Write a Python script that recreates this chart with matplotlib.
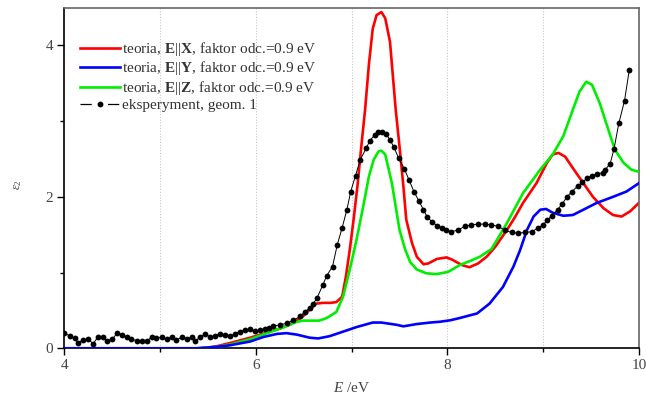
import matplotlib
matplotlib.use("Agg")
import matplotlib.pyplot as plt
from matplotlib.ticker import MultipleLocator
from matplotlib.lines import Line2D

plt.rcParams['font.family'] = ['Liberation Serif', 'DejaVu Serif']
plt.rcParams['mathtext.fontset'] = 'custom'
plt.rcParams['mathtext.rm'] = 'Liberation Serif'
plt.rcParams['mathtext.it'] = 'Liberation Serif:italic'
plt.rcParams['mathtext.bf'] = 'Liberation Serif:bold'

# ---- data ----
red_x = [4.0, 5.0, 5.4, 5.5, 5.6, 5.73, 5.85, 5.94, 6.07, 6.25, 6.35, 6.43, 6.49, 6.56, 6.63,
         6.70, 6.78, 6.84, 6.90, 6.94, 6.98, 7.02, 7.06, 7.10, 7.14, 7.18, 7.22, 7.26, 7.31,
         7.35, 7.40, 7.46, 7.50, 7.54, 7.57, 7.63, 7.68, 7.75, 7.80, 7.89, 7.99, 8.05, 8.15,
         8.23, 8.32, 8.41, 8.50, 8.62, 8.70, 8.79, 8.86, 8.93, 9.04, 9.10, 9.16, 9.23, 9.31,
         9.42, 9.52, 9.63, 9.73, 9.82, 9.91, 10.0]
red_y = [0.0, 0.0, 0.0, 0.01, 0.03, 0.07, 0.11, 0.14, 0.19, 0.26, 0.31, 0.37, 0.42, 0.51, 0.59,
         0.60, 0.60, 0.61, 0.68, 0.95, 1.30, 1.70, 2.14, 2.66, 3.15, 3.75, 4.22, 4.40, 4.44,
         4.36, 4.05, 3.15, 2.66, 2.14, 1.70, 1.39, 1.21, 1.11, 1.12, 1.18, 1.20, 1.17, 1.10,
         1.07, 1.12, 1.21, 1.34, 1.56, 1.72, 1.92, 2.05, 2.18, 2.45, 2.56, 2.58, 2.53, 2.38,
         2.18, 2.00, 1.85, 1.76, 1.74, 1.81, 1.92]

green_x = [4.0, 5.0, 5.4, 5.5, 5.6, 5.73, 5.85, 5.94, 6.07, 6.25, 6.35, 6.43, 6.49, 6.56, 6.66,
           6.74, 6.84, 6.91, 6.98, 7.05, 7.12, 7.18, 7.23, 7.28, 7.31, 7.35, 7.38, 7.42, 7.46,
           7.50, 7.56, 7.61, 7.68, 7.78, 7.89, 8.01, 8.13, 8.25, 8.34, 8.46, 8.62, 8.79, 8.97,
           9.10, 9.21, 9.31, 9.38, 9.45, 9.51, 9.59, 9.68, 9.75, 9.84, 9.92, 10.0]
green_y = [0.0, 0.0, 0.0, 0.01, 0.02, 0.05, 0.09, 0.12, 0.18, 0.26, 0.31, 0.35, 0.365, 0.365, 0.365,
           0.40, 0.48, 0.68, 1.04, 1.43, 1.87, 2.27, 2.49, 2.60, 2.61, 2.56, 2.40, 2.18, 1.87,
           1.56, 1.30, 1.14, 1.04, 0.99, 0.98, 1.01, 1.10, 1.16, 1.21, 1.31, 1.65, 2.05, 2.36,
           2.56, 2.80, 3.15, 3.39, 3.52, 3.48, 3.24, 2.89, 2.62, 2.45, 2.36, 2.33]

blue_x = [4.0, 5.0, 5.38, 5.5, 5.6, 5.73, 5.94, 6.08, 6.22, 6.32, 6.43, 6.56, 6.65, 6.77, 6.91,
          7.05, 7.22, 7.31, 7.47, 7.54, 7.68, 7.82, 7.92, 8.03, 8.13, 8.31, 8.44, 8.58, 8.69,
          8.76, 8.83, 8.90, 8.97, 9.03, 9.10, 9.21, 9.31, 9.42, 9.56, 9.73, 9.87, 10.0]
blue_y = [0.0, 0.0, 0.0, 0.01, 0.02, 0.04, 0.09, 0.15, 0.19, 0.20, 0.18, 0.14, 0.13, 0.16, 0.22,
          0.28, 0.34, 0.34, 0.31, 0.29, 0.32, 0.34, 0.35, 0.37, 0.40, 0.46, 0.59, 0.81, 1.08,
          1.30, 1.56, 1.74, 1.83, 1.84, 1.79, 1.75, 1.76, 1.83, 1.92, 2.00, 2.07, 2.18]

exp_x = [4.00, 4.06, 4.11, 4.14, 4.19, 4.25, 4.30, 4.35, 4.40, 4.44, 4.50, 4.55, 4.60, 4.65,
         4.70, 4.76, 4.81, 4.86, 4.91, 4.96, 5.02, 5.07, 5.12, 5.17, 5.23, 5.28, 5.33, 5.36,
         5.42, 5.47, 5.52, 5.57, 5.62, 5.68, 5.73, 5.78, 5.83, 5.89, 5.94, 5.99, 6.04, 6.09,
         6.14, 6.18, 6.25, 6.32, 6.39, 6.46, 6.51, 6.56, 6.60, 6.64, 6.70, 6.74, 6.80, 6.85,
         6.90, 6.95, 6.99, 7.04, 7.09, 7.15, 7.19, 7.24, 7.28, 7.32, 7.36, 7.40, 7.44, 7.49,
         7.55, 7.60, 7.65, 7.70, 7.75, 7.79, 7.84, 7.89, 7.94, 7.99, 8.04, 8.11, 8.18, 8.25,
         8.32, 8.39, 8.46, 8.53, 8.60, 8.67, 8.74, 8.81, 8.88, 8.95, 9.00, 9.04, 9.09, 9.15,
         9.20, 9.25, 9.30, 9.36, 9.41, 9.46, 9.51, 9.56, 9.62, 9.65, 9.70, 9.74, 9.79, 9.85, 9.90]
exp_y = [0.20, 0.16, 0.13, 0.07, 0.11, 0.12, 0.06, 0.15, 0.15, 0.09, 0.12, 0.20, 0.18, 0.15,
         0.12, 0.10, 0.09, 0.09, 0.15, 0.13, 0.15, 0.12, 0.15, 0.11, 0.15, 0.12, 0.15, 0.09,
         0.15, 0.19, 0.15, 0.16, 0.19, 0.18, 0.16, 0.19, 0.22, 0.24, 0.25, 0.23, 0.24, 0.25,
         0.27, 0.29, 0.31, 0.33, 0.37, 0.42, 0.48, 0.53, 0.59, 0.67, 0.84, 0.96, 1.08, 1.37,
         1.59, 1.83, 2.07, 2.28, 2.49, 2.64, 2.74, 2.82, 2.85, 2.85, 2.83, 2.75, 2.66, 2.51,
         2.37, 2.22, 2.07, 1.95, 1.83, 1.73, 1.67, 1.62, 1.59, 1.56, 1.54, 1.56, 1.61, 1.63,
         1.64, 1.64, 1.63, 1.61, 1.56, 1.53, 1.52, 1.53, 1.54, 1.59, 1.63, 1.69, 1.75, 1.83,
         1.91, 2.00, 2.07, 2.14, 2.19, 2.25, 2.28, 2.30, 2.32, 2.36, 2.44, 2.63, 2.97, 3.27, 3.68]

labels = [r'teoria, $\mathbf{E}||\mathbf{X}$, faktor odc.=0.9 eV',
          r'teoria, $\mathbf{E}||\mathbf{Y}$, faktor odc.=0.9 eV',
          r'teoria, $\mathbf{E}||\mathbf{Z}$, faktor odc.=0.9 eV',
          'eksperyment, geom. 1']

# ---- figure ----
fig = plt.figure(figsize=(6.46, 3.98), dpi=100)
ax = fig.add_axes([0.0998, 0.1249, 0.8892, 0.8543])

for gx in [5, 6, 7, 8, 9]:
    ax.axvline(gx, color='#c8c8c8', linestyle=(0, (1, 1.5)), linewidth=0.8, zorder=0)

l_red, = ax.plot(red_x, red_y, color='#ff0000', lw=1.9, zorder=2)
l_blue, = ax.plot(blue_x, blue_y, color='#0000ff', lw=1.9, zorder=4)
l_green, = ax.plot(green_x, green_y, color='#00ee00', lw=1.9, zorder=3)
ax.plot(exp_x, exp_y, color='black', lw=0.7, marker='o', markersize=4.2,
        markeredgewidth=0, zorder=5)

exp_proxy = Line2D([], [], color='black', lw=0.9, linestyle=(0, (9, 13)),
                   marker='o', markersize=4.2, markeredgewidth=0)

ax.set_xlim(4, 10)
ax.set_ylim(0, 4.49)
ax.xaxis.set_major_locator(MultipleLocator(2))
ax.xaxis.set_minor_locator(MultipleLocator(1))
ax.yaxis.set_major_locator(MultipleLocator(2))
ax.yaxis.set_minor_locator(MultipleLocator(1))
ax.tick_params(which='major', direction='out', length=5, width=1, labelsize=11,
               labelcolor='#444444', pad=3)
ax.tick_params(which='minor', direction='out', length=3, width=1)
ax.tick_params(axis='y', which='both', left=True, right=False)
ax.tick_params(axis='x', which='both', bottom=True, top=False)

for s in ['left', 'bottom']:
    ax.spines[s].set_linewidth(1.2)
    ax.spines[s].set_color('black')
for s in ['top', 'right']:
    ax.spines[s].set_linewidth(1.2)
    ax.spines[s].set_color('#666666')

ax.set_xlabel(r'$E$ /eV', fontsize=11, color='#444444', labelpad=6)
fig.text(0.028, 0.535, r'$\varepsilon_2$', rotation=90, fontsize=9, color='#444444',
         ha='center', va='center')

leg = ax.legend([l_red, l_blue, l_green, exp_proxy], labels,
                loc='upper left', bbox_to_anchor=(0.017, 0.925), frameon=False, fontsize=11,
                handlelength=2.6, handletextpad=0.15, labelspacing=0.1, borderaxespad=0.0)
for t in leg.get_texts():
    t.set_color('#333333')

fig.savefig('out.png', dpi=100)
